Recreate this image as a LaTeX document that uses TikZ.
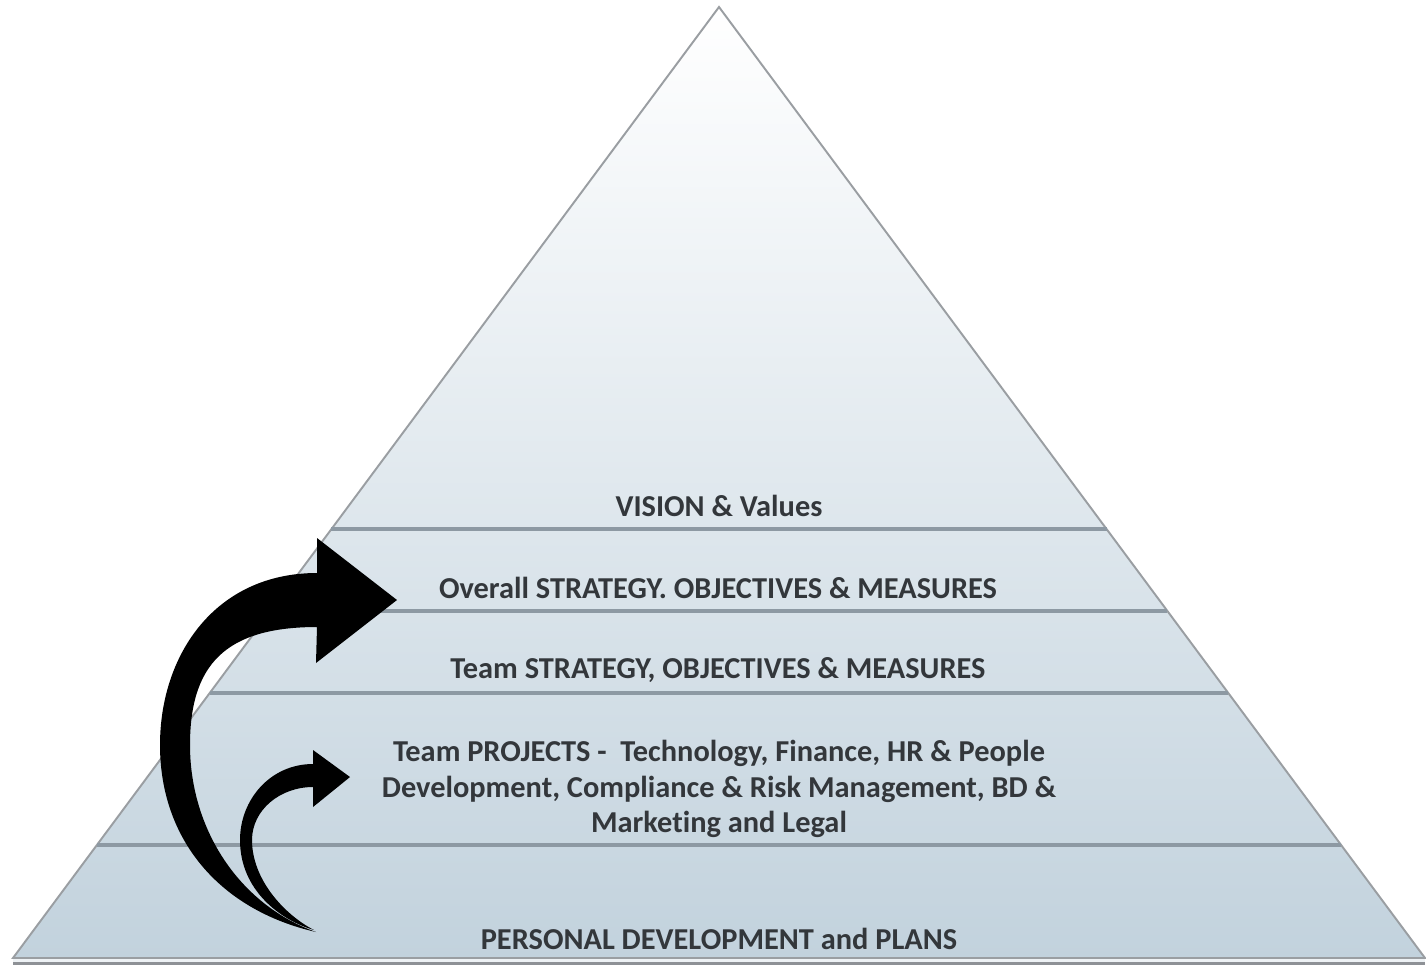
\documentclass[tikz,border=0pt]{standalone}
\usepackage{fontspec}
\setmainfont{Carlito}[Ligatures=NoCommon]
\usetikzlibrary{calc}
\definecolor{pyrTop}{HTML}{FFFFFF}
\definecolor{pyrBottom}{HTML}{C2D2DD}
\definecolor{edgeGray}{HTML}{9A9EA2}
\definecolor{divGray}{HTML}{8D99A3}
\definecolor{labelInk}{HTML}{33373B}
\definecolor{baseLight}{HTML}{EEF2F5}
\definecolor{baseLine}{HTML}{8E9196}
\tikzset{
  level label/.style={font=\bfseries\fontsize{17.3}{20.4}\selectfont, text=labelInk, align=center, inner sep=0pt},
  divider/.style={draw=divGray, line width=1.8},
  pyr edge/.style={draw=edgeGray, line width=1.1},
  sweep/.style={fill=black}
}
\begin{document}
\begin{tikzpicture}[x=0.02cm, y=-0.02cm]
\useasboundingbox (0,0) rectangle (1426,965);

% pyramid corners
\coordinate (apex) at (719,7);
\coordinate (bl) at (13,958);
\coordinate (br) at (1425,958);

% soft shadow to the lower right
\foreach \d/\o in {9/0.03,7/0.05,5/0.07,3/0.09,1.5/0.12}
  \fill[black, opacity=\o, shift={(\d,0.4*\d)}] (apex) -- (br) -- (bl) -- cycle;

% base slab under the pyramid
\fill[baseLight] (13,958) rectangle (1425,962);
\draw[baseLine, line width=2.2] (13,963.5) -- (1425,963.5);

% pyramid body
\shade[top color=pyrTop, bottom color=pyrBottom] (apex) -- (br) -- (bl) -- cycle;
\draw[pyr edge] (apex) -- (br) -- (bl) -- cycle;

% level dividers
\foreach \f/\n in {0.5489/a, 0.6351/b, 0.7213/c, 0.8812/d} {
  \coordinate (L\n) at ($(apex)!\f!(bl)$);
  \coordinate (R\n) at ($(apex)!\f!(br)$);
  \draw[divider] (L\n) -- (R\n);
}

% level labels
\node[level label] (vision)   at (719,506) {VISION \& Values};
\node[level label] (overall)  at (718,588) {Overall STRATEGY. OBJECTIVES \& MEASURES};
\node[level label] (team)     at (718,670) {Team STRATEGY, OBJECTIVES \& MEASURES};
\node[level label] (projects) at (719,789) {Team PROJECTS -\ \ Technology, Finance, HR \& People\\Development, Compliance \& Risk Management, BD \&\\Marketing and Legal};
\node[level label] (personal) at (719,939) {PERSONAL DEVELOPMENT and PLANS};

% large curved arrow
\fill[sweep] (316,932)
  .. controls (220,910) and (160,840) .. (160,745)
  .. controls (160,655) and (215,573) .. (317,573)
  -- (317,538) -- (397,600) -- (316,663) -- (317,627)
  .. controls (225,627) and (190,665) .. (190,745)
  .. controls (190,830) and (240,905) .. (316,932) -- cycle;

% small curved arrow
\fill[sweep] (314,930)
  .. controls (280,920) and (240,890) .. (240,840)
  .. controls (240,800) and (270,764) .. (313,764)
  -- (313,750) -- (350,777) -- (313,807) -- (313,787)
  .. controls (280,787) and (252,810) .. (252,840)
  .. controls (252,880) and (285,915) .. (314,930) -- cycle;
\end{tikzpicture}
\end{document}
